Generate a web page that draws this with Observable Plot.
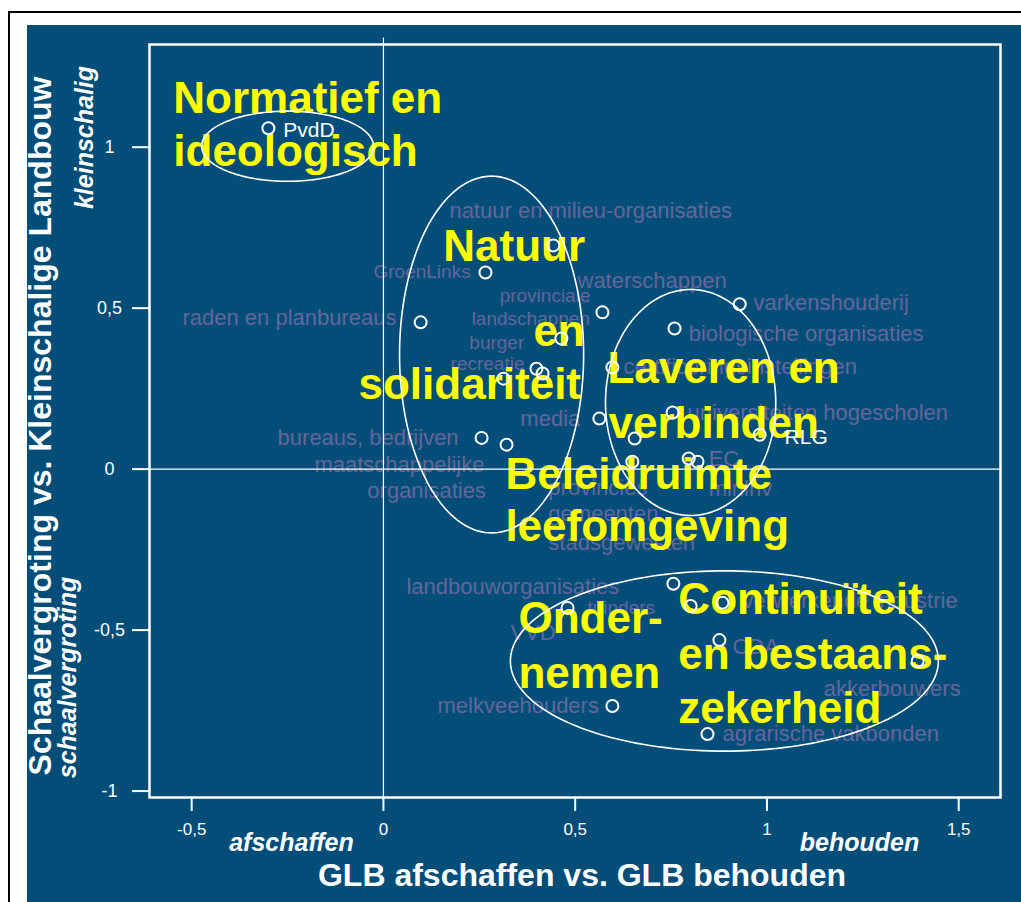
<!DOCTYPE html>
<html><head><meta charset="utf-8">
<script src="https://cdn.jsdelivr.net/npm/d3@7"></script>
<script src="https://cdn.jsdelivr.net/npm/@observablehq/plot@0.6"></script>
<style>
html,body{margin:0;padding:0;background:#fff;}
#page{position:relative;width:1021px;height:902px;overflow:hidden;}
#bt{position:absolute;left:8px;top:11px;width:1013px;height:2px;background:#000;}
#bl{position:absolute;left:8px;top:11px;width:2px;height:891px;background:#000;}
#panel{position:absolute;left:27px;top:25px;width:994px;height:877px;background:#024e78;}
#chart{position:absolute;left:0;top:0;}
</style></head><body>
<div id="page"><div id="bt"></div><div id="bl"></div><div id="panel"></div><div id="chart"></div></div>
<script>
// actors (circles)
const actors = ["PvdD","GroenLinks","raden en planbureaus","natuur en milieu-organisaties","waterschappen","provinciale landschappen","burger","recreatie","stadsgewesten","certificeringsinstellingen","biologische organisaties","varkenshouderij","media","universiteiten hogescholen","gemeenten","RLG","provincies","EC","minlnv","bureaus, bedrijven","maatschappelijke organisaties","landbouworganisaties","tuinders","VVD","verwerkende industrie","CDA","akkerbouwers","melkveehouders","agrarische vakbonden"];
const glb = [-0.300,0.266,0.097,0.443,0.571,0.464,0.399,0.415,0.313,0.597,0.759,0.929,0.563,0.754,0.655,0.981,0.649,0.796,0.819,0.256,0.321,0.756,0.480,0.801,0.884,0.876,1.393,0.597,0.845];
const schaal = [1.059,0.611,0.456,0.695,0.487,0.406,0.312,0.297,0.281,0.316,0.437,0.512,0.157,0.176,0.095,0.107,0.023,0.033,0.023,0.097,0.076,-0.356,-0.431,-0.425,-0.415,-0.531,-0.596,-0.736,-0.823];

// actor labels
const labelText = ["PvdD","GroenLinks","raden en planbureaus","natuur en milieu-organisaties","waterschappen","provinciale","landschappen","burger","recreatie","certificeringsinstellingen","biologische organisaties","varkenshouderij","media","universiteiten hogescholen","RLG","bureaus, bedrijven","maatschappelijke","organisaties","EC","provincies","minlnv","gemeenten","stadsgewesten","landbouworganisaties","tuinders","VVD","verwerkende industrie","CDA","akkerbouwers","melkveehouders","agrarische vakbonden"];
const labelX = [-0.261,-0.026,-0.524,0.172,0.506,0.303,0.230,0.224,0.175,0.626,0.796,0.965,0.357,0.793,1.046,-0.276,-0.180,-0.042,0.848,0.430,0.848,0.430,0.430,0.060,0.532,0.331,0.936,0.910,1.148,0.141,0.884];
const labelY = [1.053,0.614,0.471,0.801,0.583,0.537,0.468,0.393,0.328,0.316,0.421,0.515,0.157,0.173,0.098,0.098,0.014,-0.067,0.033,-0.058,-0.061,-0.138,-0.229,-0.365,-0.431,-0.509,-0.409,-0.552,-0.683,-0.736,-0.823];
const whiteLabels = ["PvdD","RLG"];
const smallLabels = ["GroenLinks","provinciale","landschappen","burger","recreatie","tuinders"];

// cluster titles
const groupText = ["Normatief en","ideologisch","Natuur","en","solidariteit","Laveren en","verbinden","Beleidruimte","leefomgeving","Onder-","nemen","Continuïteit","en bestaans-","zekerheid"];
const groupX = [-0.548,-0.548,0.156,0.391,-0.065,0.584,0.587,0.318,0.318,0.352,0.352,0.769,0.769,0.769];
const groupY = [1.106,0.941,0.645,0.384,0.219,0.269,0.098,-0.061,-0.222,-0.509,-0.680,-0.449,-0.620,-0.788];

// cluster ellipses (centre and radii in data units)
const clusterCx = [-0.250, 0.282, 0.801, 0.889];
const clusterCy = [1.003, 0.356, 0.207, -0.596];
const clusterRx = [0.224, 0.240, 0.222, 0.558];
const clusterRy = [0.109, 0.554, 0.351, 0.280];

const xTicks = [-0.5, 0, 0.5, 1, 1.5];
const yTicks = [-1, -0.5, 0, 0.5, 1];
const xDomain = [-0.610, 1.609];
const yDomain = [-1.020, 1.319];

const fmt = v => String(v).replace(".", ",");
const points = actors.map((name, i) => ({name, x: glb[i], y: schaal[i]}));
const labels = labelText.map((text, i) => ({text, x: labelX[i], y: labelY[i]}));
const groups = groupText.map((text, i) => ({text, x: groupX[i], y: groupY[i]}));
const ellipse = [];
clusterCx.forEach((cx, g) => {
  for (let k = 0; k <= 180; k++) {
    const t = 2 * Math.PI * k / 180;
    ellipse.push({g, x: cx + clusterRx[g] * Math.cos(t), y: clusterCy[g] + clusterRy[g] * Math.sin(t)});
  }
});

const FONT = "'Liberation Sans', Arial, Helvetica, sans-serif";
const purple = "#64669b";

const chart = Plot.plot({
  width: 1021, height: 902,
  marginLeft: 149, marginRight: 21, marginTop: 44, marginBottom: 105,
  x: {domain: xDomain},
  y: {domain: yDomain},
  style: {background: "transparent", fontFamily: FONT, color: "white", overflow: "visible"},
  marks: [
    Plot.text(labels.filter(d => !whiteLabels.includes(d.text) && !smallLabels.includes(d.text)),
      {x: "x", y: "y", text: "text", textAnchor: "start", fill: purple, fontSize: 22}),
    Plot.text(labels.filter(d => smallLabels.includes(d.text)),
      {x: "x", y: "y", text: "text", textAnchor: "start", fill: purple, fontSize: 19}),
    Plot.text(groups, {x: "x", y: "y", text: "text", textAnchor: "start", lineAnchor: "bottom",
      fill: "#ffff00", fontSize: 44, fontWeight: "bold"}),
    Plot.line(ellipse, {x: "x", y: "y", z: "g", stroke: "white", strokeWidth: 1.6}),
    Plot.ruleY([0], {stroke: "white", strokeWidth: 1.2}),
    Plot.ruleX([0], {y1: yDomain[0], y2: 1.339, stroke: "white", strokeWidth: 1.2}),
    Plot.frame({stroke: "white", strokeWidth: 2.5}),
    Plot.axisX({ticks: xTicks, tickFormat: fmt, tickSize: 14, tickPadding: 11, strokeWidth: 2,
      fontSize: 17, label: null}),
    Plot.axisY({ticks: yTicks, tickFormat: fmt, tickSize: 17, tickPadding: 23, strokeWidth: 2,
      textAnchor: "middle", fontSize: 18, label: null}),
    Plot.dot(points, {x: "x", y: "y", r: 6, stroke: "white", strokeWidth: 2, fill: "none"}),
    Plot.text(labels.filter(d => whiteLabels.includes(d.text)),
      {x: "x", y: "y", text: "text", textAnchor: "start", fill: "white", fontSize: 21}),
    // axis titles
    Plot.text(["GLB afschaffen vs. GLB behouden"], {frameAnchor: "bottom", dx: 7, dy: 88,
      fill: "white", fontSize: 32, fontWeight: "bold"}),
    Plot.text(["afschaffen"], {frameAnchor: "bottom-left", dx: 142, dy: 53, textAnchor: "middle",
      fill: "white", fontSize: 25, fontWeight: "bold", fontStyle: "italic"}),
    Plot.text(["behouden"], {frameAnchor: "bottom-left", dx: 710, dy: 53, textAnchor: "middle",
      fill: "white", fontSize: 25, fontWeight: "bold", fontStyle: "italic"}),
    Plot.text(["Schaalvergroting vs. Kleinschalige Landbouw"], {frameAnchor: "left", dx: -109, dy: 5,
      rotate: -90, textAnchor: "middle", fill: "white", fontSize: 32, fontWeight: "bold"}),
    Plot.text(["kleinschalig"], {frameAnchor: "top-left", dx: -74, dy: 93, rotate: -90,
      textAnchor: "middle", fill: "white", fontSize: 25, fontWeight: "bold", fontStyle: "italic"}),
    Plot.text(["schaalvergroting"], {frameAnchor: "bottom-left", dx: -74, dy: -120, rotate: -90,
      textAnchor: "middle", fill: "white", fontSize: 25, fontWeight: "bold", fontStyle: "italic"})
  ]
});
document.getElementById("chart").appendChild(chart);
</script>
</body></html>
